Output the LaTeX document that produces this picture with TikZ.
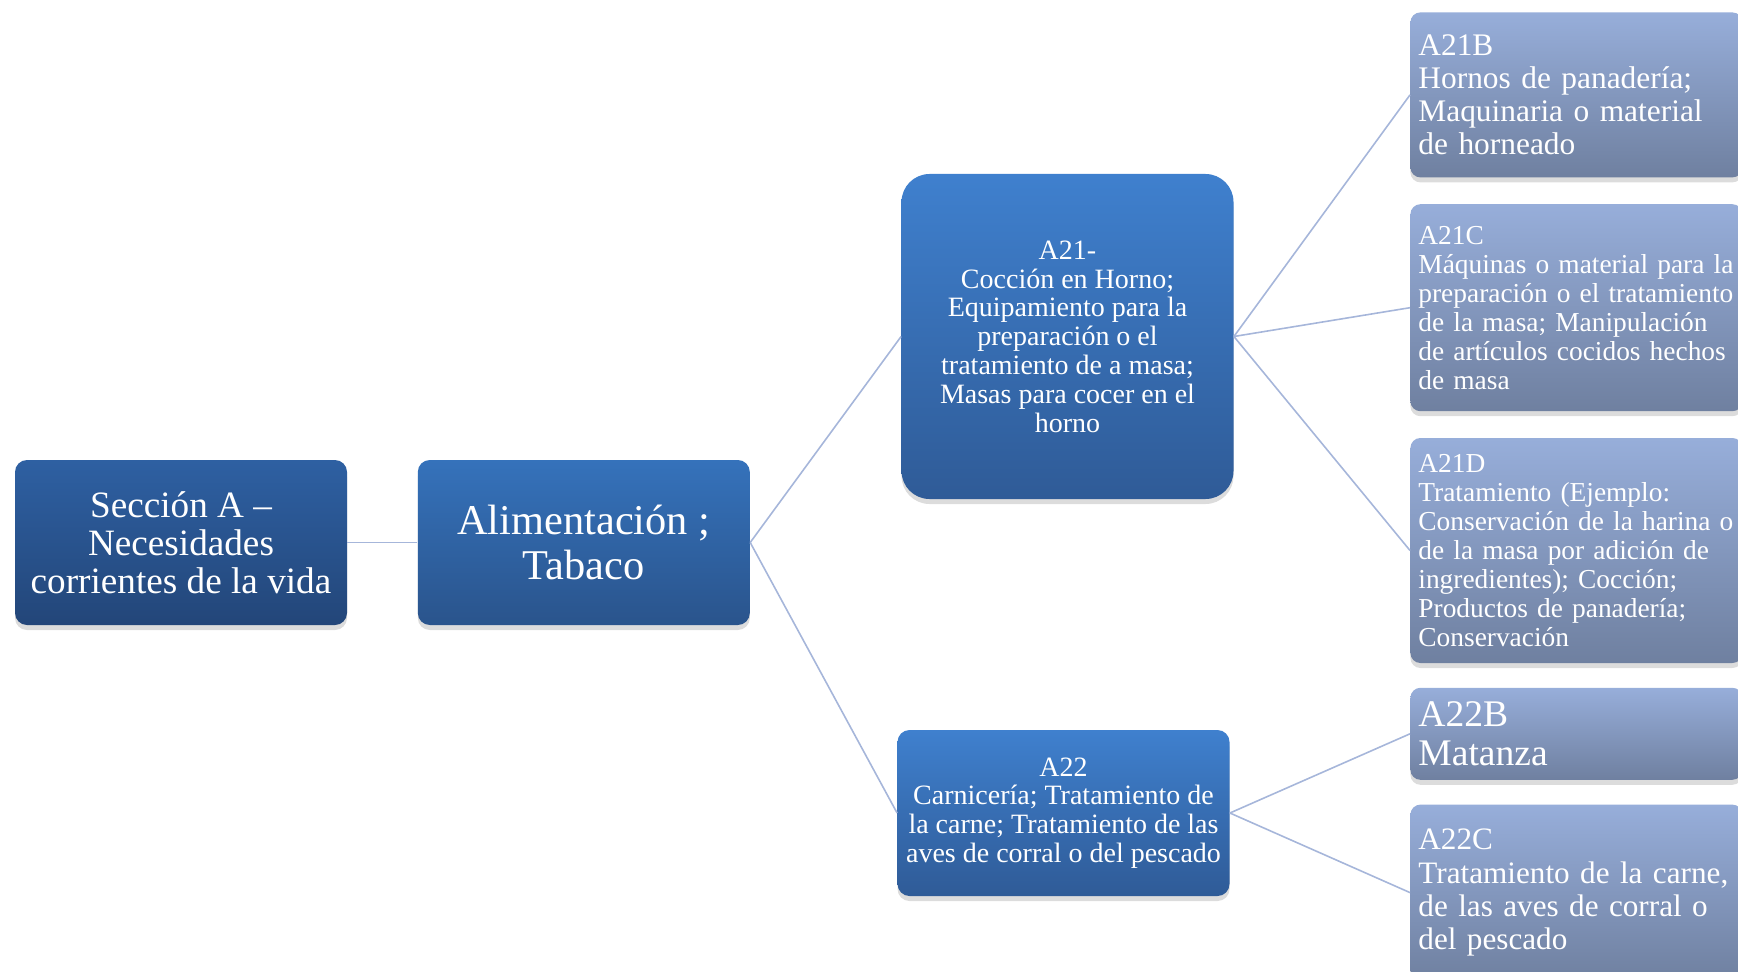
\documentclass[tikz,border=0pt]{standalone}
\usepackage{fontspec}
\setmainfont{Liberation Serif}
\usetikzlibrary{positioning,shadows}

\definecolor{seccionArriba}{HTML}{2E60A2}
\definecolor{seccionAbajo}{HTML}{234679}
\definecolor{claseArriba}{HTML}{3572BB}
\definecolor{claseAbajo}{HTML}{2A548C}
\definecolor{grupoArriba}{HTML}{3F80CE}
\definecolor{grupoAbajo}{HTML}{2F5B97}
\definecolor{hojaArriba}{HTML}{97AEDA}
\definecolor{hojaAbajo}{HTML}{6F80A0}
\definecolor{enlaceAzul}{HTML}{A6B6DA}

\begin{document}
\begin{tikzpicture}[
      x=1pt, y=1pt,
      every node/.style={text=white},
      caja/.style={
        rectangle, inner sep=4pt,
        drop shadow={opacity=0.28, shadow xshift=0pt, shadow yshift=-2.5pt},
      },
      seccion/.style={
        caja, top color=seccionArriba, bottom color=seccionAbajo,
        minimum width=166pt, minimum height=82.5pt, rounded corners=6pt,
        align=center, font=\fontsize{18.6}{19.1}\selectfont,
      },
      clase/.style={
        caja, top color=claseArriba, bottom color=claseAbajo,
        minimum width=166pt, minimum height=82.5pt, rounded corners=6pt,
        align=center, font=\fontsize{21.2}{22.2}\selectfont,
      },
      grupo/.style={
        caja, top color=grupoArriba, bottom color=grupoAbajo,
        minimum width=166pt, align=center,
        font=\fontsize{14}{14.4}\selectfont,
      },
      hoja/.style={
        caja, top color=hojaArriba, bottom color=hojaAbajo,
        text width=158pt, align=left, rounded corners=5pt,
        font=\fontsize{13.7}{14.5}\selectfont,
      },
      enlace/.style={draw=enlaceAzul, line width=0.8pt},
    ]

    \useasboundingbox (0,0) rectangle (869,485.5);

    % Section and class, left column
    \node[seccion] (secA) at (90.5,214.25) {%
      Sección A –\\Necesidades\\corrientes de la vida};
    \node[clase, right=35pt of secA] (alim) {Alimentación ;\\Tabaco};

    % Main groups
    \node[grupo, minimum height=162.5pt, rounded corners=14pt] (a21) at (533.75,317.25) {%
      A21-\\Cocción en Horno;\\Equipamiento para la\\preparación o el\\%
      tratamiento de a masa;\\Masas para cocer en el\\horno};
    \node[grupo, minimum height=83pt, rounded corners=6pt] (a22) at (531.75,79) {%
      A22\\Carnicería; Tratamiento de\\la carne; Tratamiento de las\\%
      aves de corral o del pescado};

    % Subgroups, stacked down the right edge
    \node[hoja, minimum height=82.5pt, anchor=north west,
          font=\fontsize{15.7}{16.6}\selectfont] (a21b) at (705,479.5) {%
      A21B\\Hornos de panadería;\\Maquinaria o material\\de horneado};
    \node[hoja, minimum height=103.5pt, below=13pt of a21b] (a21c) {%
      A21C\\Máquinas o material para la\\preparación o el tratamiento\\%
      de la masa; Manipulación\\de artículos cocidos hechos\\de masa};
    \node[hoja, minimum height=112.5pt, below=13pt of a21c] (a21d) {%
      A21D\\Tratamiento (Ejemplo:\\Conservación de la harina o\\%
      de la masa por adición de\\ingredientes); Cocción;\\%
      Productos de panadería;\\Conservación};
    \node[hoja, minimum height=46pt, below=12pt of a21d,
          font=\fontsize{18.8}{19.4}\selectfont] (a22b) {%
      A22B\\Matanza};
    \node[hoja, minimum height=88pt, below=12pt of a22b,
          font=\fontsize{15.6}{16.6}\selectfont] (a22c) {%
      A22C\\Tratamiento de la carne,\\de las aves de corral o\\del pescado};

    % Connectors
    \draw[enlace] (secA.east) -- (alim.west);
    \draw[enlace] (alim.east) -- (a21.west);
    \draw[enlace] (alim.east) -- (a22.west);
    \draw[enlace] (a21.east) -- (a21b.west);
    \draw[enlace] (a21.east) -- (a21c.west);
    \draw[enlace] (a21.east) -- (a21d.west);
    \draw[enlace] (a22.east) -- (a22b.west);
    \draw[enlace] (a22.east) -- (a22c.west);

  \end{tikzpicture}
\end{document}
